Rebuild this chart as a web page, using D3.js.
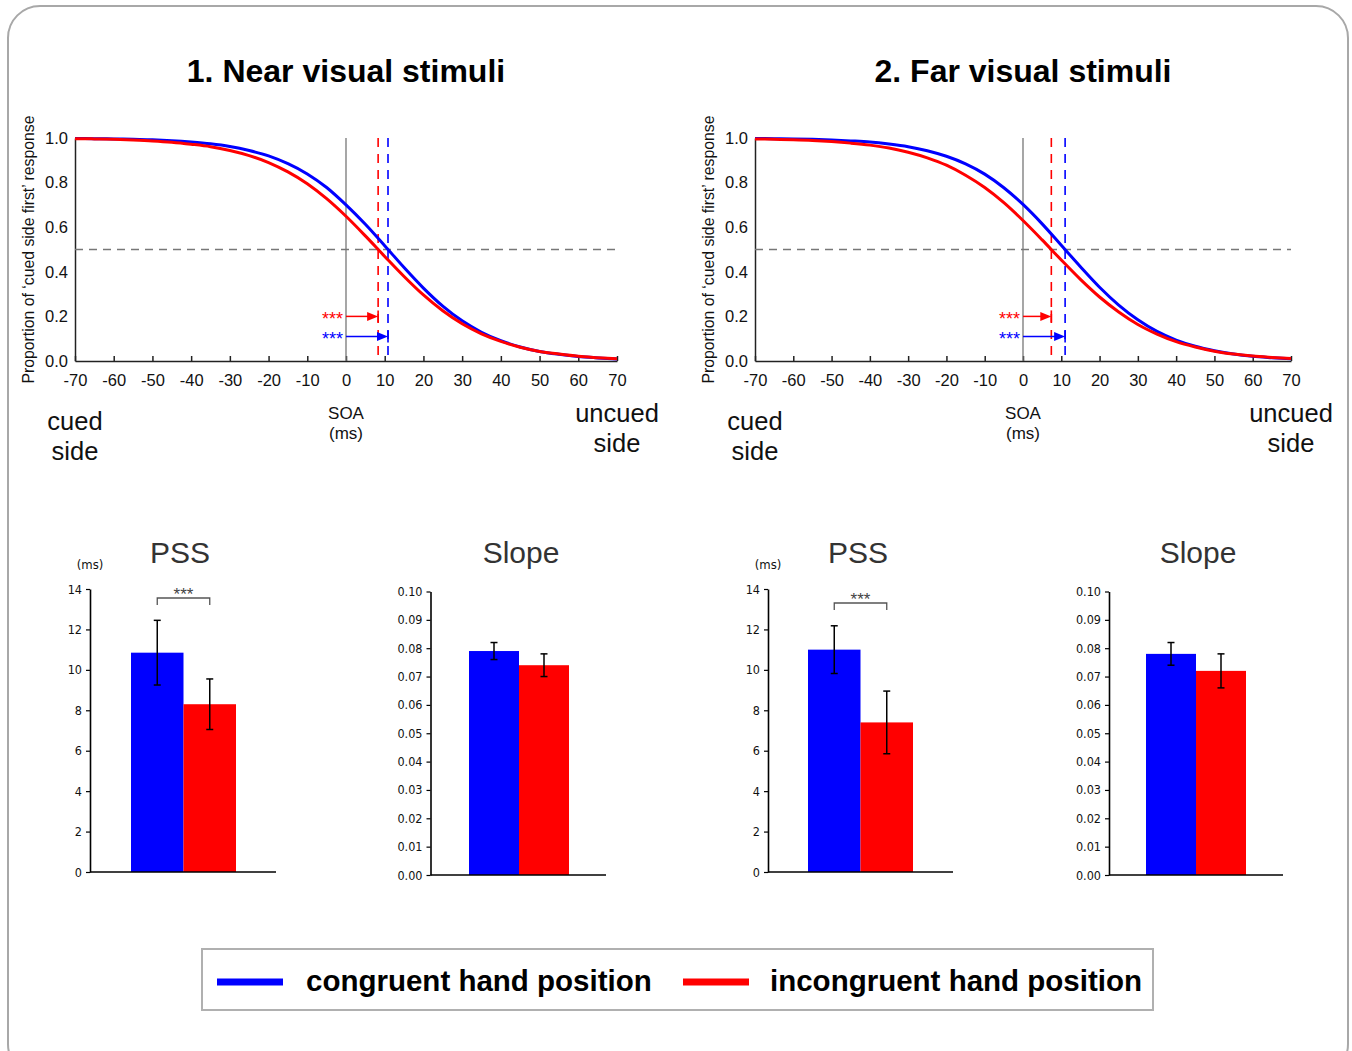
<!DOCTYPE html>
<html>
<head>
<meta charset="utf-8">
<script src="https://cdn.jsdelivr.net/npm/d3@7"></script>
<style>
  body { margin: 0; background: #fff; }
  svg { display: block; font-family: "Liberation Sans", Arial, sans-serif; }
  .bar-tick { font-family: "Liberation Sans Narrow", "DejaVu Sans Condensed", sans-serif; }
</style>
</head>
<body>
<svg id="chart" width="1352" height="1051"></svg>
<script>
// ---- data ----
const soa = [-70,-65,-60,-55,-50,-45,-40,-35,-30,-25,-20,-15,-10,-5,0,5,10,15,20,25,30,35,40,45,50,55,60,65,70];
// fitted curves
const nearCongruent   = [.998,.997,.996,.994,.992,.988,.982,.974,.962,.944,.920,.885,.839,.778,.700,.613,.517,.419,.327,.246,.180,.129,.091,.063,.043,.030,.020,.014,.009];
const nearIncongruent = [.997,.996,.994,.991,.987,.981,.972,.961,.944,.921,.890,.848,.795,.728,.649,.561,.469,.379,.296,.225,.167,.122,.088,.062,.043,.031,.021,.015,.010];
const farCongruent    = [.998,.997,.996,.994,.991,.987,.982,.973,.961,.943,.918,.884,.838,.777,.702,.615,.519,.423,.331,.251,.185,.133,.094,.066,.046,.031,.021,.015,.010];
const farIncongruent  = [.996,.994,.992,.989,.984,.977,.968,.955,.936,.911,.878,.833,.778,.710,.630,.543,.453,.366,.287,.220,.164,.121,.087,.063,.044,.031,.022,.016,.011];

const conditions = ["congruent", "incongruent"];
const legendLabels = ["congruent hand position", "incongruent hand position"];
const colors = ["#0000ff", "#ff0000"];

const nearPSS = [10.85, 8.3],   nearPSSerr = [1.6, 1.25];
const nearSlope = [0.079, 0.074], nearSlopeErr = [0.003, 0.004];
const farPSS = [11.0, 7.4],     farPSSerr = [1.18, 1.55];
const farSlope = [0.078, 0.072],  farSlopeErr = [0.004, 0.006];

const soaTicks = d3.range(-70, 71, 10);
const propTicks = [0, 0.2, 0.4, 0.6, 0.8, 1.0];
const pssTicks = d3.range(0, 15, 2);
const slopeTicks = d3.range(0, 0.1001, 0.01);

const svg = d3.select("#chart");

// frame
svg.append("rect").attr("x", 8).attr("y", 6).attr("width", 1340).attr("height", 1070)
  .attr("rx", 32).attr("fill", "none").attr("stroke", "#a8a8a8").attr("stroke-width", 2);

// ---- psychometric panels ----
function curvePanel(o) {
  const g = svg.append("g");
  const x = d3.scaleLinear().domain([-70, 70]).range([o.x0, o.x1]);
  const y = d3.scaleLinear().domain([0, 1]).range([361, 138]);

  g.append("text").attr("x", (o.x0 + o.x1) / 2).attr("y", 82).attr("text-anchor", "middle")
    .attr("font-size", 32).attr("font-weight", "bold").text(o.title);

  // x axis with inner ticks, plain hyphen for negatives
  const xa = g.append("g").attr("transform", "translate(0,361)")
    .call(d3.axisBottom(x).tickValues(soaTicks).tickFormat(d => String(d)).tickSizeInner(-5).tickSizeOuter(0).tickPadding(13));
  xa.select(".domain").attr("stroke", "#222").attr("stroke-width", 1.5);
  xa.selectAll(".tick line").attr("stroke", "#222").attr("stroke-width", 1.5);
  xa.selectAll("text").attr("font-size", 16.5).attr("fill", "#111");

  const ya = g.append("g").attr("transform", `translate(${o.x0},0)`)
    .call(d3.axisLeft(y).tickValues(propTicks).tickFormat(d3.format(".1f")).tickSize(0).tickPadding(7));
  ya.select(".domain").attr("stroke", "#222").attr("stroke-width", 1.5);
  ya.selectAll("text").attr("font-size", 16.5).attr("fill", "#111");

  g.append("text").attr("transform", `translate(${o.x0 - 41},${y(0.5)}) rotate(-90)`)
    .attr("text-anchor", "middle").attr("font-size", 15.8).attr("fill", "#111")
    .text("Proportion of \u2018cued side first\u2019 response");

  // reference lines
  g.append("line").attr("x1", x(0)).attr("x2", x(0)).attr("y1", y(1)).attr("y2", y(0))
    .attr("stroke", "#777").attr("stroke-width", 1.3);
  g.append("line").attr("x1", x(-70)).attr("x2", x(70)).attr("y1", y(0.5)).attr("y2", y(0.5))
    .attr("stroke", "#777").attr("stroke-width", 1.3).attr("stroke-dasharray", "8,6");

  o.pss.forEach((p, i) => {
    g.append("line").attr("x1", x(p)).attr("x2", x(p)).attr("y1", y(1)).attr("y2", y(0))
      .attr("stroke", colors[i]).attr("stroke-width", 1.6).attr("stroke-dasharray", "9,7");
  });

  const line = d3.line().x((d, i) => x(soa[i])).y(d => y(d)).curve(d3.curveMonotoneX);
  [o.curves[0], o.curves[1]].forEach((c, i) => {
    g.append("path").attr("d", line(c)).attr("fill", "none")
      .attr("stroke", colors[i]).attr("stroke-width", 3);
  });

  // significance arrows
  const arrowY = [y(0.2), y(0.11)];
  [1, 0].forEach(i => {
    const ay = arrowY[1 - i];
    const xe = x(o.pss[i]);
    g.append("line").attr("x1", x(0)).attr("x2", xe - 8).attr("y1", ay).attr("y2", ay)
      .attr("stroke", colors[i]).attr("stroke-width", 1.5);
    g.append("path").attr("d", `M${xe - 11},${ay - 4.5}L${xe},${ay}L${xe - 11},${ay + 4.5}Z`)
      .attr("fill", colors[i]);
    g.append("line").attr("x1", xe).attr("x2", xe).attr("y1", ay - 6).attr("y2", ay + 6)
      .attr("stroke", colors[i]).attr("stroke-width", 1.6);
    g.append("text").attr("x", x(0) - 3).attr("y", ay + 9).attr("text-anchor", "end")
      .attr("font-size", 18).attr("fill", colors[i]).text("***");
  });

  // axis side labels
  const side = (tx, ty, lines, size) => {
    const t = g.append("text").attr("text-anchor", "middle").attr("font-size", size).attr("fill", "#111");
    lines.forEach((s, k) => t.append("tspan").attr("x", tx).attr("y", ty + k * size * 1.17).text(s));
  };
  side(x(-70), 430, ["cued", "side"], 25.5);
  side(x(70), 422, ["uncued", "side"], 25.5);
  side(x(0), 419, ["SOA", "(ms)"], 17);
}

curvePanel({ title: "1. Near visual stimuli", x0: 75, x1: 617, pss: [nearPSS[0], nearPSS[1]], curves: [nearCongruent, nearIncongruent] });
curvePanel({ title: "2. Far visual stimuli", x0: 755, x1: 1291, pss: [farPSS[0], farPSS[1]], curves: [farCongruent, farIncongruent] });

// ---- bar panels ----
function barPanel(o) {
  const g = svg.append("g");
  const x = d3.scaleBand().domain(conditions).range([o.barL, o.barR]).padding(0);
  const y = d3.scaleLinear().domain(o.domain).range(o.range);

  g.append("text").attr("x", o.titleX).attr("y", 563).attr("text-anchor", "middle")
    .attr("font-size", 30).attr("fill", "#333").text(o.title);

  const ya = g.append("g").attr("transform", `translate(${o.axisX},0)`)
    .call(d3.axisLeft(y).tickValues(o.ticks).tickFormat(o.fmt).tickSizeInner(4).tickSizeOuter(0).tickPadding(4));
  ya.select(".domain").attr("stroke", "#000").attr("stroke-width", 1.6);
  ya.selectAll(".tick line").attr("stroke", "#000").attr("stroke-width", 1.2);
  ya.selectAll("text").attr("class", "bar-tick").attr("font-size", 12.5).attr("fill", "#111");

  g.selectAll(".bar").data(o.values).join("rect")
    .attr("x", (d, i) => x(conditions[i])).attr("width", x.bandwidth())
    .attr("y", d => y(d)).attr("height", d => y(0) - y(d))
    .attr("fill", (d, i) => colors[i]);

  g.append("line").attr("x1", o.axisX).attr("x2", o.end).attr("y1", y(0)).attr("y2", y(0))
    .attr("stroke", "#000").attr("stroke-width", 1.6);

  o.values.forEach((v, i) => {
    const cx = x(conditions[i]) + x.bandwidth() / 2;
    const lo = y(v - o.err[i]), hi = y(v + o.err[i]);
    g.append("line").attr("x1", cx).attr("x2", cx).attr("y1", lo).attr("y2", hi).attr("stroke", "#000").attr("stroke-width", 1.5);
    [lo, hi].forEach(yy => g.append("line").attr("x1", cx - 3.5).attr("x2", cx + 3.5).attr("y1", yy).attr("y2", yy)
      .attr("stroke", "#000").attr("stroke-width", 1.5));
  });

  if (o.bracketY) {
    const c0 = x(conditions[0]) + x.bandwidth() / 2, c1 = x(conditions[1]) + x.bandwidth() / 2;
    g.append("path").attr("d", `M${c0},${o.bracketY + 7}V${o.bracketY}H${c1}V${o.bracketY + 7}`)
      .attr("fill", "none").attr("stroke", "#555").attr("stroke-width", 1.3);
    g.append("text").attr("x", (c0 + c1) / 2).attr("y", o.bracketY + 2).attr("text-anchor", "middle")
      .attr("font-size", 17).attr("fill", "#444").text("***");
    g.append("text").attr("class", "bar-tick").attr("x", o.axisX).attr("y", 569).attr("text-anchor", "middle")
      .attr("font-size", 13).attr("fill", "#111").text("(ms)");
  }
}

const pssCfg = { domain: [0, 14], range: [872, 589], ticks: pssTicks, fmt: d3.format("d"), title: "PSS" };
const slopeCfg = { domain: [0, 0.1], range: [875, 591.5], ticks: slopeTicks, fmt: d3.format(".2f"), title: "Slope" };

barPanel({ ...pssCfg, axisX: 90, barL: 131, barR: 236, end: 276, titleX: 180, values: nearPSS, err: nearPSSerr, bracketY: 598 });
barPanel({ ...slopeCfg, axisX: 430.5, barL: 469, barR: 569, end: 606, titleX: 521, values: nearSlope, err: nearSlopeErr });
barPanel({ ...pssCfg, axisX: 768, barL: 808, barR: 913, end: 953, titleX: 858, values: farPSS, err: farPSSerr, bracketY: 603 });
barPanel({ ...slopeCfg, axisX: 1109, barL: 1146, barR: 1246, end: 1283, titleX: 1198, values: farSlope, err: farSlopeErr });

// ---- legend ----
const lg = svg.append("g");
lg.append("rect").attr("x", 202).attr("y", 949).attr("width", 951).attr("height", 61)
  .attr("fill", "#fff").attr("stroke", "#b0b0b0").attr("stroke-width", 2);
const legendPos = [{ lx: 217, tx: 306 }, { lx: 683, tx: 770 }];
legendLabels.forEach((lab, i) => {
  lg.append("line").attr("x1", legendPos[i].lx).attr("x2", legendPos[i].lx + 66).attr("y1", 982).attr("y2", 982)
    .attr("stroke", colors[i]).attr("stroke-width", 7);
  lg.append("text").attr("x", legendPos[i].tx).attr("y", 991).attr("font-size", 29.5).attr("font-weight", "bold")
    .attr("fill", "#000").text(lab);
});
</script>
</body>
</html>
